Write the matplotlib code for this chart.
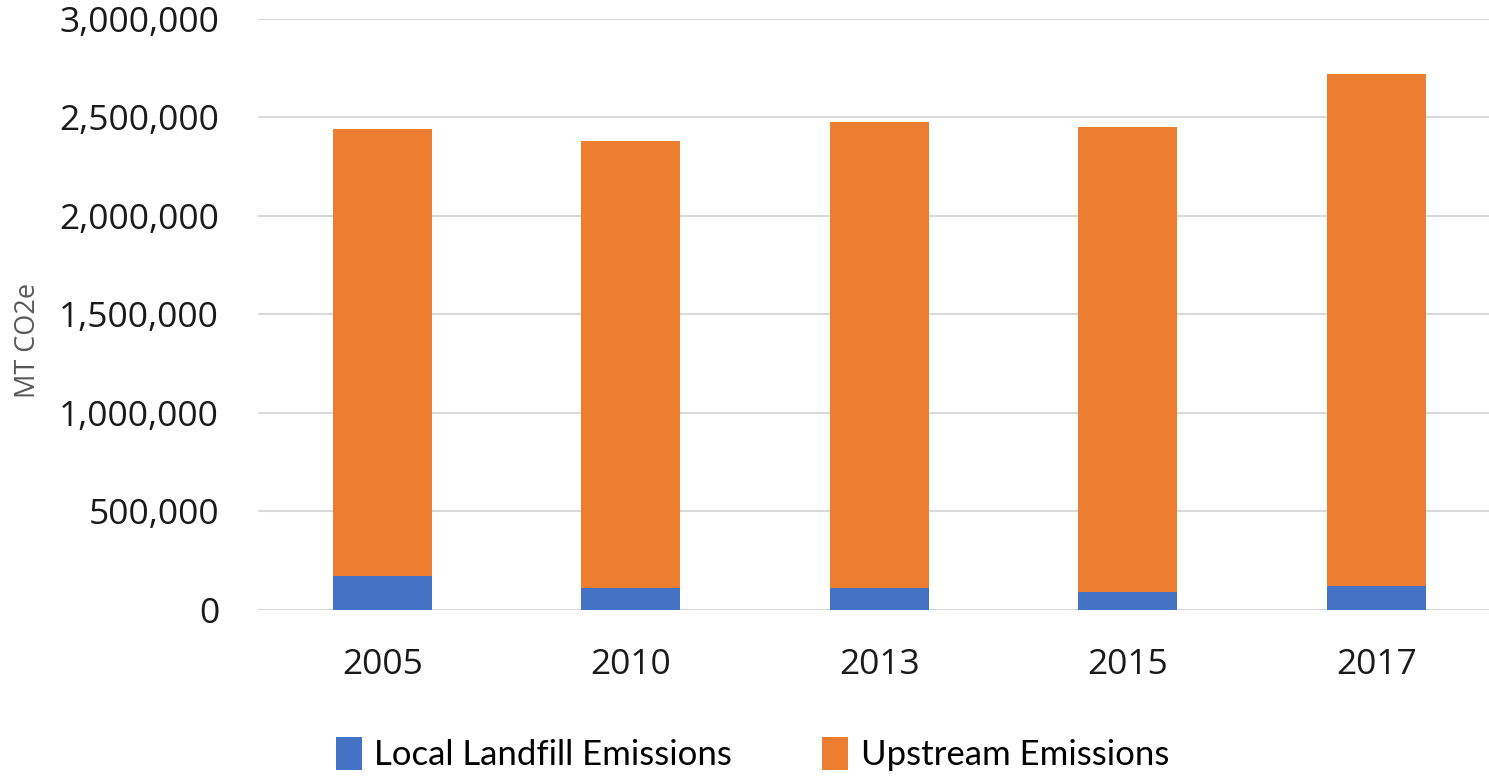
import matplotlib
matplotlib.use("Agg")
import matplotlib.pyplot as plt
from matplotlib.patches import Patch
from matplotlib.ticker import FuncFormatter

years = ["2005", "2010", "2013", "2015", "2017"]
local_landfill = [172000, 113000, 113000, 93000, 123000]
upstream = [2267000, 2268000, 2365000, 2356000, 2598000]
series_names = ["Local Landfill Emissions", "Upstream Emissions"]
y_ticks = [0, 500000, 1000000, 1500000, 2000000, 2500000, 3000000]

BLUE = "#4472C4"
ORANGE = "#ED7D31"

W, H = 1489, 776
fig = plt.figure(figsize=(W / 100, H / 100), dpi=100)
left, right = 258, 1489
bottom, top = 610, 18.8
ax = fig.add_axes([left / W, 1 - bottom / H, (right - left) / W, (bottom - top) / H])

x = list(range(len(years)))
ax.bar(x, local_landfill, width=0.40, color=BLUE, zorder=3)
ax.bar(x, upstream, width=0.40, bottom=local_landfill, color=ORANGE, zorder=3)

spacing = 248.5
ax.set_xlim(-0.5, -0.5 + (right - left) / spacing)
ax.set_ylim(0, 3000000)
ax.set_yticks(y_ticks)
ax.yaxis.set_major_formatter(FuncFormatter(lambda v, p: f"{int(v):,}"))
ax.set_xticks(x)
ax.set_xticklabels(years)

ax.grid(axis="y", color="#D9D9D9", linewidth=1.5, zorder=0)
ax.set_axisbelow(True)
for s in ax.spines.values():
    s.set_visible(False)
ax.tick_params(axis="both", length=0, labelsize=25.5, labelcolor="#1a1a1a")
ax.tick_params(axis="y", pad=28)
ax.tick_params(axis="x", pad=27)
for lbl in ax.get_xticklabels() + ax.get_yticklabels():
    lbl.set_fontfamily(["Open Sans", "DejaVu Sans"])

fig.text(28 / W, 1 - 340 / H, "MT CO2e", rotation=90, ha="center", va="center",
         fontsize=19.5, color="#595959", family=["Open Sans", "DejaVu Sans"])

handles = [Patch(facecolor=BLUE, label=series_names[0]),
           Patch(facecolor=ORANGE, label=series_names[1])]
fig.legend(handles=handles, loc="center", bbox_to_anchor=(752.5 / W, 1 - 754 / H),
           ncol=2, frameon=False, handlelength=0.75, handleheight=1.1,
           handletextpad=0.35, columnspacing=2.6,
           prop={"family": ["Lato", "DejaVu Sans"], "size": 25})

fig.savefig("out.png", dpi=100, facecolor="white")
